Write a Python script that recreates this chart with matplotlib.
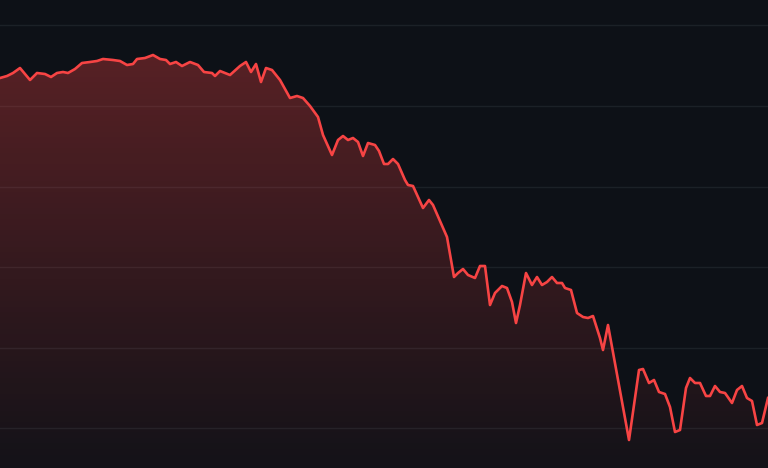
import numpy as np
import matplotlib
matplotlib.use("Agg")
import matplotlib.pyplot as plt
from matplotlib.colors import LinearSegmentedColormap

# series (time index, level)
t = [0, 7, 13, 20, 30, 37, 45, 51, 57, 63, 68, 75, 82, 90, 97, 103, 113, 120, 127, 133,
     137, 145, 153, 160, 166, 170, 176, 182, 190, 198, 204, 212, 215, 220, 230, 240, 246, 251, 256, 261,
     266, 272, 280, 290, 297, 303, 310, 318, 323, 332, 338, 343, 348, 353, 358, 363, 368, 375, 379, 384,
     388, 393, 398, 405, 408, 413, 423, 429, 433, 443, 447, 454, 458, 463, 468, 475, 480, 485, 490, 495,
     502, 507, 512, 516, 520, 526, 532, 537, 542, 547, 552, 557, 562, 565, 571, 577, 583, 588, 593, 600,
     603, 608, 629, 639, 643, 649, 654, 659, 665, 670, 675, 680, 686, 690, 695, 700, 706, 710, 715, 720,
     725, 732, 737, 742, 747, 752, 757, 762, 768]
level = [390, 392, 395, 400, 388, 395, 394, 391, 395, 396, 395, 399, 405, 406, 407, 409, 408, 407, 403, 404,
         409, 410, 413, 409, 408, 404, 406, 402, 406, 403, 396, 395, 392, 397, 393, 402, 406, 396, 404, 386,
         400, 398, 388, 370, 372, 370, 362, 351, 333, 313, 328, 332, 328, 330, 326, 312, 325, 323, 317, 304,
         304, 309, 304, 288, 283, 282, 260, 268, 263, 240, 231, 191, 195, 199, 193, 190, 202, 202, 163, 175,
         182, 180, 166, 145, 163, 195, 183, 191, 183, 186, 191, 185, 185, 180, 178, 155, 151, 150, 152, 130,
         118, 143, 28, 98, 99, 85, 88, 76, 74, 61, 36, 38, 80, 90, 85, 85, 72, 72, 82, 76,
         75, 65, 78, 82, 70, 67, 43, 45, 70]
grid_levels = [40, 120.5, 201, 281, 362, 443]

bg = "#0d1117"
red = "#f74444"

fig = plt.figure(figsize=(7.68, 4.68), dpi=100, facecolor=bg)
ax = fig.add_axes([0, 0, 1, 1])
ax.set_facecolor(bg)
ax.set_xlim(0, 768)
ax.set_ylim(0, 468)

for g in grid_levels:
    ax.axhline(g, color="#1b2127", lw=1, zorder=1)

# gradient fill under the line
cmap = LinearSegmentedColormap.from_list("fade", [(0.96, 0.26, 0.26, 0.03), (0.96, 0.26, 0.26, 0.33)])
grad = np.linspace(0, 1, 256).reshape(-1, 1)
img = ax.imshow(grad, cmap=cmap, extent=[0, 768, 0, 420], origin="lower", aspect="auto", zorder=2)
poly = ax.fill_between(t, level, 0, color="none", lw=0)
clip = poly.get_paths()[0]
img.set_clip_path(clip, transform=ax.transData)

ax.plot(t, level, color=red, lw=1.9, zorder=3, solid_joinstyle="round")

ax.axis("off")
fig.savefig("out.png", dpi=100, facecolor=bg)
